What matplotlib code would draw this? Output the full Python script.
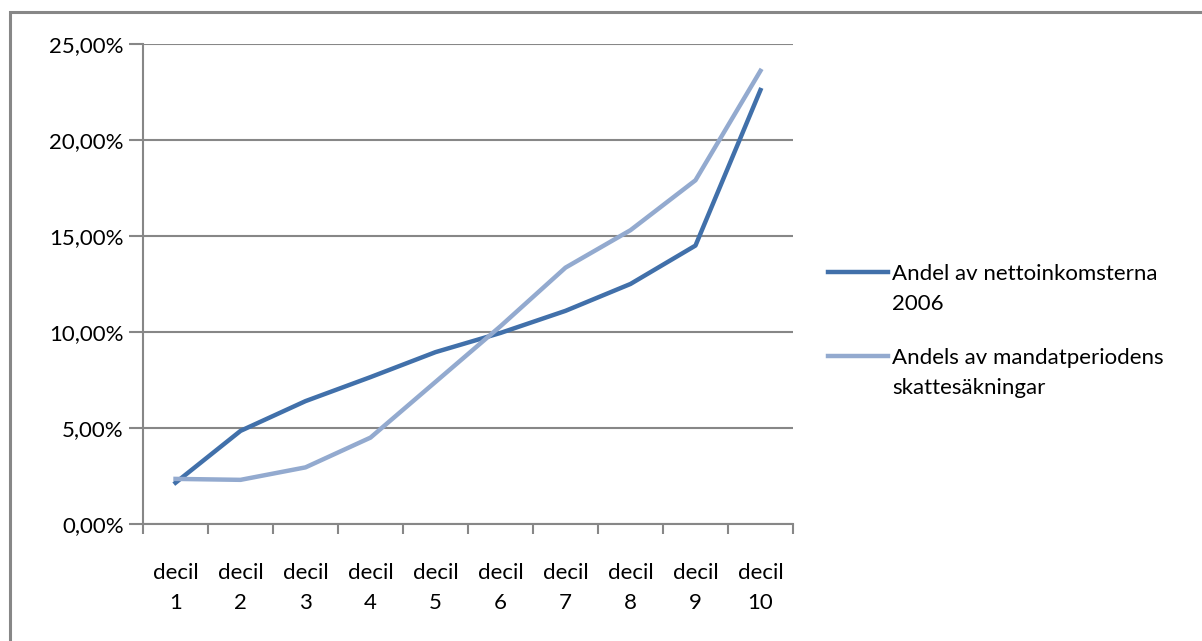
import matplotlib
matplotlib.use("Agg")
import matplotlib.pyplot as plt
from matplotlib.lines import Line2D
from matplotlib.patches import Rectangle
from matplotlib.ticker import FixedLocator, FuncFormatter

plt.rcParams['font.family'] = ['Lato', 'DejaVu Sans']

# andelar per decil (procent)
deciler = ['decil\n1', 'decil\n2', 'decil\n3', 'decil\n4', 'decil\n5',
           'decil\n6', 'decil\n7', 'decil\n8', 'decil\n9', 'decil\n10']
netto_2006 = [2.15, 4.85, 6.4, 7.65, 8.95, 9.95, 11.1, 12.5, 14.5, 22.6]
skattesankningar = [2.35, 2.3, 2.95, 4.5, 7.4, 10.3, 13.35, 15.3, 17.9, 23.6]
namn = ['Andel av nettoinkomsterna\n2006',
        'Andels av mandatperiodens\nskattesäkningar']
farger = ['#4170AA', '#93AACF']

grid_col = '#878787'
fs = 16
W, H = 1202, 641

fig = plt.figure(figsize=(W / 100, H / 100), dpi=100)
ax = fig.add_axes([0.119, 0.1825, 0.5407, 0.749])

x = list(range(1, len(deciler) + 1))
for serie, c in zip([netto_2006, skattesankningar], farger):
    ax.plot(x, serie, color=c, lw=3.2, zorder=3)

ax.set_xlim(0.5, len(deciler) + 0.5)
ax.set_ylim(0, 25)
ax.yaxis.set_major_locator(FixedLocator([0, 5, 10, 15, 20, 25]))
ax.yaxis.set_major_formatter(FuncFormatter(lambda v, p: f'{v:.2f}%'.replace('.', ',')))
ax.grid(axis='y', color=grid_col, lw=1.5)
ax.set_axisbelow(True)

# kategorier: streck mellan decilerna, etiketter i mitten
ax.xaxis.set_major_locator(FixedLocator([i + 0.5 for i in range(0, len(deciler) + 1)]))
ax.xaxis.set_major_formatter(FuncFormatter(lambda v, p: ''))
ax.set_xticks(x, minor=True)
ax.set_xticklabels(deciler, minor=True, fontsize=fs, linespacing=1.65)
ax.tick_params(axis='x', which='minor', length=0, pad=28)
ax.tick_params(axis='x', which='major', length=7, width=1.5, color=grid_col)
ax.tick_params(axis='y', length=10, width=1.5, color=grid_col, labelsize=fs, pad=4)

for s in ['top', 'right']:
    ax.spines[s].set_visible(False)
for s in ['left', 'bottom']:
    ax.spines[s].set_color(grid_col)
    ax.spines[s].set_linewidth(1.5)

# teckenförklaring: linjen i höjd med första textraden
for i, (txt, c) in enumerate(zip(namn, farger)):
    yp = 1 - (272 + i * 84) / H
    fig.add_artist(Line2D([828 / W, 888 / W], [yp, yp], color=c, lw=3.2,
                          transform=fig.transFigure))
    fig.text(892 / W, yp + 8 / H, txt, fontsize=fs, va='top', ha='left',
             linespacing=1.65)

# ram runt diagramytan
fig.patches.append(Rectangle((10 / W, -0.1), 1.2, (H - 12) / H + 0.1,
                             transform=fig.transFigure, fill=False,
                             edgecolor=grid_col, lw=2.2))

fig.savefig('out.png', dpi=100)
